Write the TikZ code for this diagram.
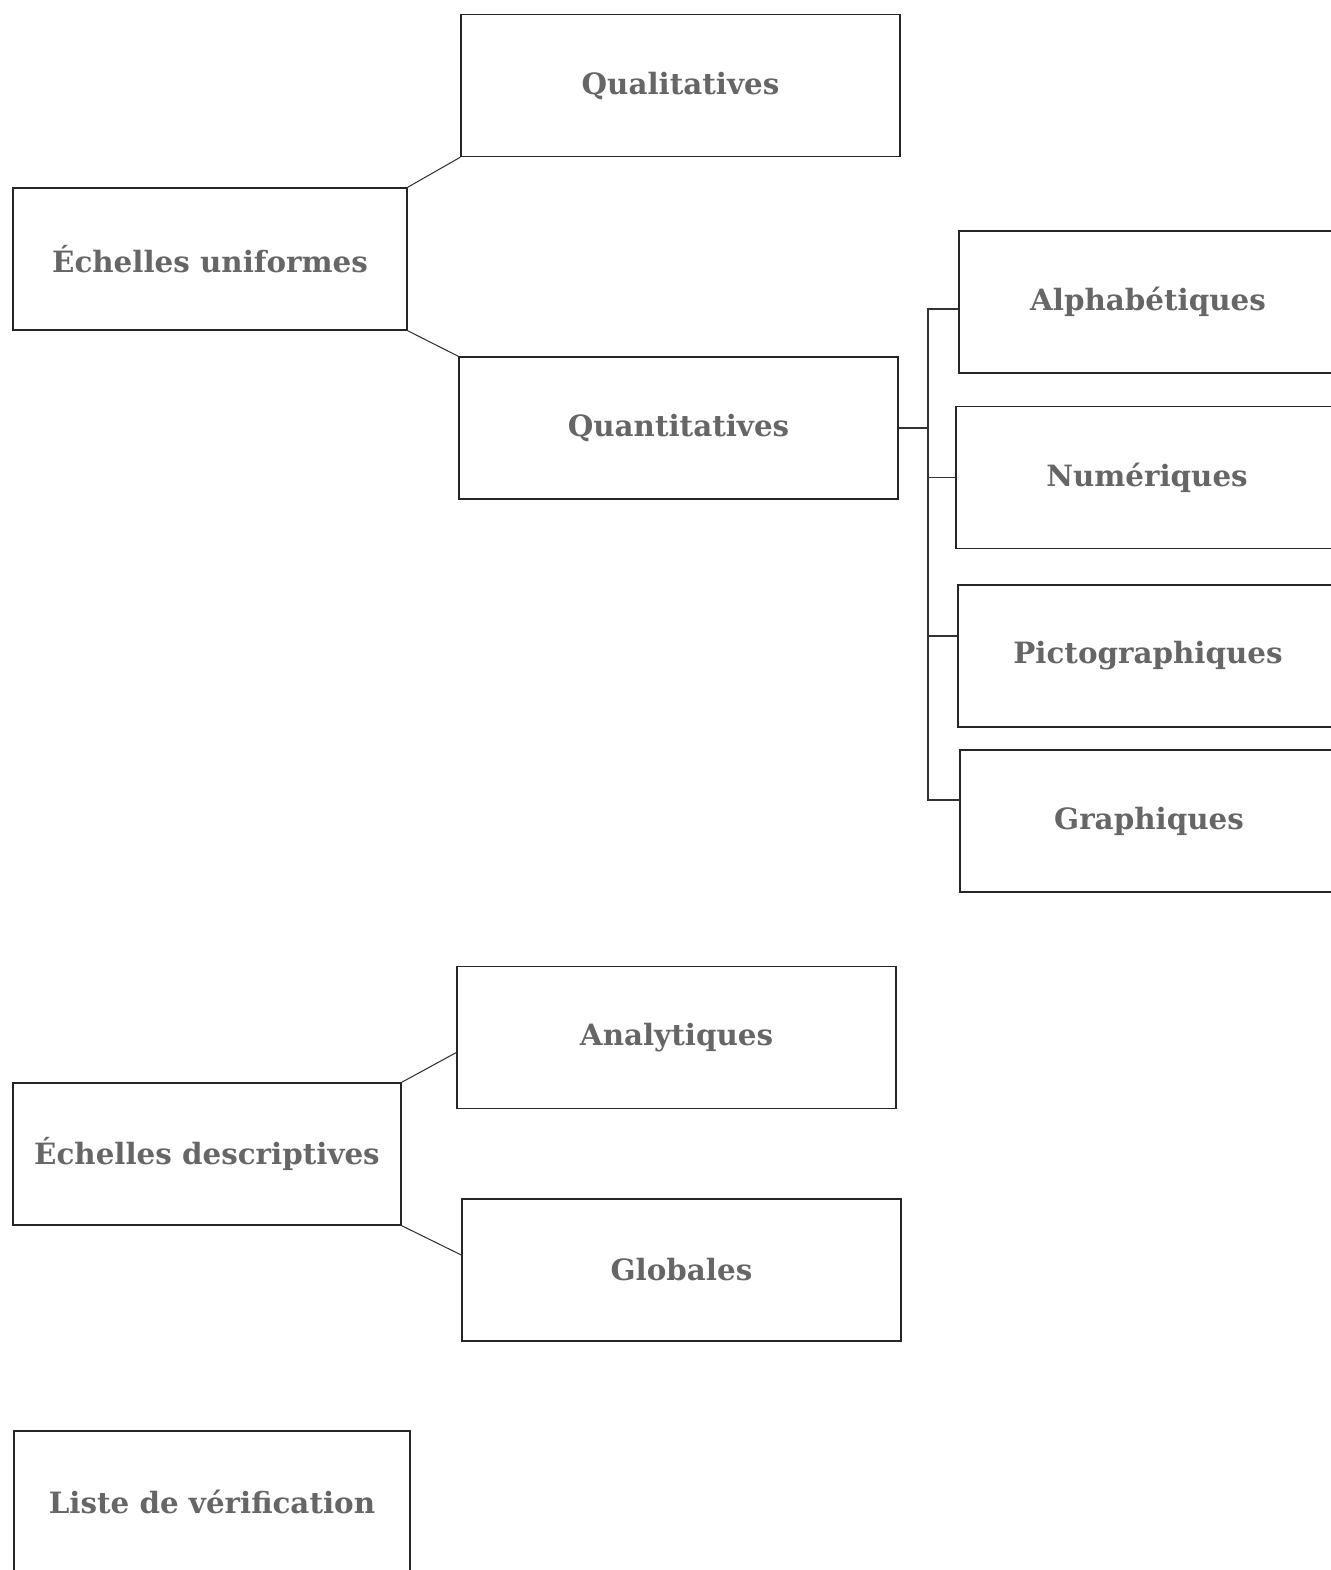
\documentclass[tikz,border=0pt]{standalone}
\usepackage{fontspec}
\setmainfont{DejaVu Serif}
\usetikzlibrary{positioning}

\tikzset{
  box/.style={draw=black!85, line width=0.8pt, rectangle, minimum height=2.84cm,
    font=\fontsize{16.7}{20}\selectfont\bfseries, text=black!60},
  link/.style={draw=black!80, line width=0.6pt}
}

\begin{document}
\begin{tikzpicture}[x=0.02cm, y=-0.02cm]
  \useasboundingbox (0,0) rectangle (1331,1570);
  % uniform scales
  \node[box, minimum width=7.88cm] (unif) at (210,259) {Échelles uniformes};
  \node[box, minimum width=8.78cm] (qual) at (680.5,85.5) {Qualitatives};
  \node[box, minimum width=8.78cm] (quant) at (678.5,428) {Quantitatives};
  \node[box, minimum width=7.56cm] (alpha) at (1148,302) {Alphabétiques};
  \node[box, minimum width=7.64cm] (num) at (1147,477.5) {Numériques};
  \node[box, minimum width=7.60cm] (picto) at (1148,656) {Pictographiques};
  \node[box, minimum width=7.56cm] (graph) at (1149,821) {Graphiques};
  % descriptive scales
  \node[box, minimum width=7.76cm] (desc) at (207,1154) {Échelles descriptives};
  \node[box, minimum width=8.78cm] (analy) at (676.5,1037.5) {Analytiques};
  \node[box, minimum width=8.78cm] (glob) at (681.5,1270) {Globales};
  % checklist
  \node[box, minimum width=7.92cm] (liste) at (212,1502) {Liste de vérification};

  \coordinate (hub) at (928,428);
  \draw[link] (unif.north east) -- (qual.south west);
  \draw[link] (unif.south east) -- (quant.north west);
  \draw[link] (quant.east) -- (hub);
  \foreach \n/\s in {alpha/-0.14cm, num/0cm, picto/0.4cm, graph/0.42cm}
    \draw[link] ([yshift=\s]\n.west) -| (hub);
  \draw[link] (desc.north east) -- ([yshift=-0.3cm]analy.west);
  \draw[link] (desc.south east) -- ([yshift=0.3cm]glob.west);
\end{tikzpicture}
\end{document}
